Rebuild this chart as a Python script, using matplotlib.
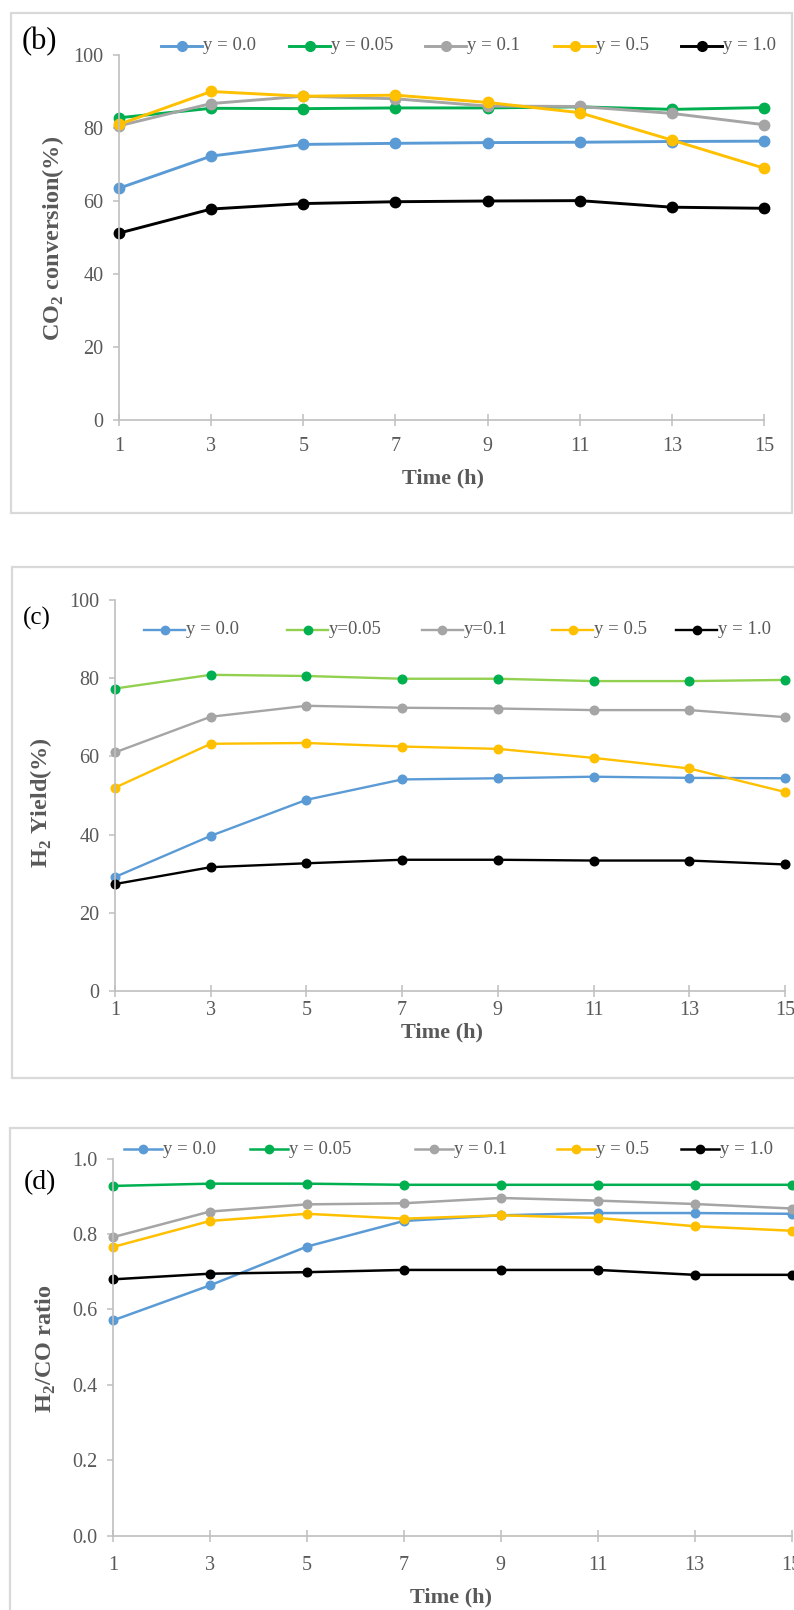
import matplotlib
matplotlib.use("Agg")
import matplotlib.pyplot as plt
from matplotlib.lines import Line2D
from matplotlib.patches import Rectangle

# ---------------- data ----------------
time_h = [1, 3, 5, 7, 9, 11, 13, 15]

co2_y00 = [63.5, 72.3, 75.5, 75.8, 76.0, 76.1, 76.3, 76.4]
co2_y005 = [82.8, 85.4, 85.3, 85.5, 85.5, 85.8, 85.1, 85.6]
co2_y01 = [80.6, 86.7, 88.7, 88.0, 86.0, 85.9, 84.0, 80.9]
co2_y05 = [81.0, 90.0, 88.7, 89.0, 87.0, 84.2, 76.7, 69.0]
co2_y10 = [51.2, 57.8, 59.3, 59.8, 60.0, 60.1, 58.3, 58.0]

h2_y00 = [29.2, 39.7, 48.9, 54.1, 54.4, 54.8, 54.5, 54.4]
h2_y005 = [77.3, 80.8, 80.5, 79.8, 79.8, 79.2, 79.2, 79.5]
h2_y01 = [61.0, 70.1, 72.9, 72.4, 72.2, 71.8, 71.8, 70.0]
h2_y05 = [52.0, 63.2, 63.4, 62.5, 61.9, 59.6, 56.9, 50.9]
h2_y10 = [27.4, 31.7, 32.7, 33.6, 33.6, 33.4, 33.4, 32.4]

ratio_y00 = [0.571, 0.664, 0.767, 0.835, 0.850, 0.856, 0.856, 0.854]
ratio_y005 = [0.928, 0.934, 0.934, 0.931, 0.931, 0.931, 0.931, 0.931]
ratio_y01 = [0.792, 0.860, 0.879, 0.882, 0.896, 0.889, 0.880, 0.868]
ratio_y05 = [0.766, 0.835, 0.854, 0.841, 0.850, 0.843, 0.821, 0.809]
ratio_y10 = [0.680, 0.695, 0.699, 0.705, 0.705, 0.705, 0.692, 0.692]

legend_b = ["y = 0.0", "y = 0.05", "y = 0.1", "y = 0.5", "y = 1.0"]
legend_c = ["y = 0.0", "y=0.05", "y=0.1", "y = 0.5", "y = 1.0"]
legend_d = ["y = 0.0", "y = 0.05", "y = 0.1", "y = 0.5", "y = 1.0"]

# ---------------- style ----------------
plt.rcParams["font.family"] = ["Liberation Serif", "DejaVu Serif"]
plt.rcParams["mathtext.fontset"] = "custom"
plt.rcParams["mathtext.rm"] = "Liberation Serif"
plt.rcParams["mathtext.bf"] = "Liberation Serif:bold"

marker_colors = ["#5B9BD5", "#00B050", "#A5A5A5", "#FFC000", "#000000"]
line_colors_c = ["#5B9BD5", "#92D050", "#A5A5A5", "#FFC000", "#000000"]
axis_gray = "#BFBFBF"
text_gray = "#595959"

W, H = 794, 1610
fig = plt.figure(figsize=(W / 100, H / 100), dpi=100)


def fx(px):
    return px / W


def fy(py):
    return 1 - py / H


# panel frames
frames = [(11, 13, 792, 513), (12, 567, 800, 1078), (10, 1128, 800, 1620)]
for (l, t, r, b) in frames:
    fig.add_artist(Rectangle((fx(l), fy(b)), fx(r) - fx(l), (b - t) / H,
                             transform=fig.transFigure, facecolor="white",
                             edgecolor="#D9D9D9", linewidth=1.6, zorder=0))


def make_panel(x_first, x_last, y_bottom, y_top, ylim, yticks, yfmt,
               series, line_colors, lw, ms, xtick_pad):
    ax = fig.add_axes([fx(x_first), fy(y_bottom), fx(x_last) - fx(x_first),
                       (y_bottom - y_top) / H])
    ax.patch.set_alpha(0)
    for vals, lc, mc in zip(series, line_colors, marker_colors):
        ax.plot(time_h, vals, color=lc, lw=lw, marker="o", ms=ms,
                markerfacecolor=mc, markeredgecolor=mc, clip_on=False,
                solid_joinstyle="round")
    ax.set_xlim(1, 15)
    ax.set_ylim(*ylim)
    ax.set_xticks(time_h)
    ax.set_yticks(yticks)
    ax.set_yticklabels([yfmt.format(v) for v in yticks])
    for s in ("top", "right"):
        ax.spines[s].set_visible(False)
    for s in ("left", "bottom"):
        ax.spines[s].set_color(axis_gray)
        ax.spines[s].set_linewidth(1.2)
    ax.tick_params(axis="y", direction="out", length=4, width=1.1,
                   color=axis_gray, labelcolor=text_gray, labelsize=14.5, pad=7)
    ax.tick_params(axis="x", direction="inout", length=9, width=1.1,
                   color=axis_gray, labelcolor=text_gray, labelsize=14.5,
                   pad=xtick_pad)
    return ax


ax_b = make_panel(119, 764, 420, 55, (0, 100), [0, 20, 40, 60, 80, 100], "{:d}",
                  [co2_y00, co2_y005, co2_y01, co2_y05, co2_y10],
                  marker_colors, 2.1, 7.5, 8)
ax_c = make_panel(115, 785, 991.4, 599.6, (0, 100), [0, 20, 40, 60, 80, 100], "{:d}",
                  [h2_y00, h2_y005, h2_y01, h2_y05, h2_y10],
                  line_colors_c, 1.7, 6.2, 2.5)
ax_d = make_panel(113, 791.7, 1535.5, 1158.8, (0, 1.0),
                  [0.0, 0.2, 0.4, 0.6, 0.8, 1.0], "{:.1f}",
                  [ratio_y00, ratio_y005, ratio_y01, ratio_y05, ratio_y10],
                  marker_colors, 1.8, 6.2, 10)


def legend_row(y, starts, length, labels, line_colors, lw, ms):
    for x0, lab, lc, mc in zip(starts, labels, line_colors, marker_colors):
        fig.add_artist(Line2D([fx(x0), fx(x0 + length)], [fy(y), fy(y)],
                              transform=fig.transFigure, color=lc, lw=lw))
        fig.add_artist(Line2D([fx(x0 + length / 2)], [fy(y)],
                              transform=fig.transFigure, marker="o", ms=ms,
                              markerfacecolor=mc, markeredgecolor=mc))
        fig.text(fx(x0 + length + 1), fy(y), lab, ha="left", va="center",
                 fontsize=13.5, color=text_gray)


legend_row(46, [161, 289, 425, 554, 681], 41, legend_b, marker_colors, 2.1, 7)
legend_row(630, [144, 287, 422, 552, 676], 41, legend_c, line_colors_c, 1.7, 6)
legend_row(1149, [124, 250, 415, 557, 681], 38, legend_d, marker_colors, 1.8, 6)

# panel letters
fig.text(fx(39), fy(42), "(b)", ha="center", va="center", fontsize=22, color="black")
fig.text(fx(37), fy(618), "(c)", ha="center", va="center", fontsize=18, color="black")
fig.text(fx(40), fy(1183), "(d)", ha="center", va="center", fontsize=20, color="black")

# axis titles
xtitle_kw = dict(fontsize=16, fontweight="bold", color=text_gray,
                 ha="center", va="center")
ytitle_kw = dict(fontsize=17.5, fontweight="bold", color=text_gray,
                 ha="center", va="center", rotation=90)
fig.text(fx(443), fy(478), "Time (h)", **xtitle_kw)
fig.text(fx(442), fy(1032), "Time (h)", **xtitle_kw)
fig.text(fx(451), fy(1597), "Time (h)", **xtitle_kw)
fig.text(fx(53), fy(238), r"CO$_\mathbf{2}$ conversion(%)", **ytitle_kw)
fig.text(fx(41), fy(803), r"H$_\mathbf{2}$ Yield(%)", **ytitle_kw)
fig.text(fx(46), fy(1349), r"H$_\mathbf{2}$/CO ratio", **ytitle_kw)

fig.savefig("out.png", dpi=100, facecolor="white")
